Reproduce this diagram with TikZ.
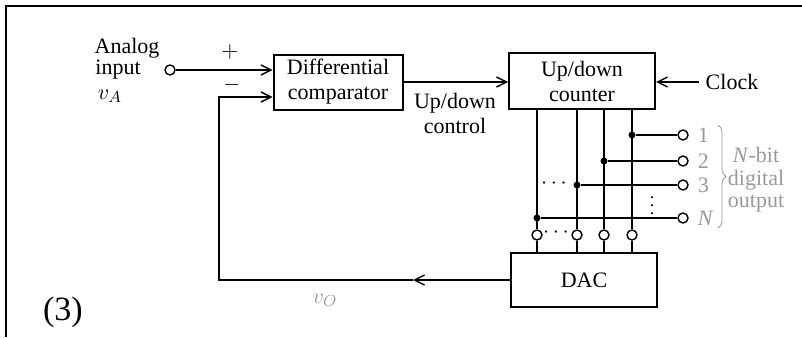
\documentclass[tikz,border=0pt]{standalone}
\usepackage{fontspec}
\setmainfont{Liberation Serif}
\usetikzlibrary{arrows.meta,positioning,decorations.pathreplacing}

\begin{document}
\begin{tikzpicture}[x=0.5pt,y=-0.5pt, every node/.style={font=\fontsize{11}{12.5}\selectfont}, blk/.style={draw,line width=1pt,inner sep=0pt,align=center}, arr/.style={-{Straight Barb[length=5pt,width=5pt]},line width=0.7pt}, wire/.style={line width=0.7pt}, pin/.style={circle,draw,fill=white,line width=0.7pt,inner sep=0pt,minimum size=5pt}, dot/.style={circle,fill,inner sep=0pt,minimum size=3.5pt}, faint/.style={text=black!40}]
\useasboundingbox (0,0) rectangle (802,337);
\draw[line width=0.9pt] (6,337) -- (6,6) -- (802,6);
% blocks
\node[blk,minimum width=64.5pt,minimum height=27.5pt] (cmp) at (338,82) {Differential\\comparator};
\node[blk,minimum width=73pt,minimum height=28pt] (cnt) at (582,81) {Up/down\\counter};
\node[blk,minimum width=73pt,minimum height=27pt] (dac) at (584,280) {DAC};
% analog input
\node[pin] (vin) at (170,70) {};
\node (lana) at (127,48) {Analog};
\node (linp) at (118,70) {input};
\node (lva) at (110,96) {$v_A$};
\coordinate (inp) at (cmp.west |- vin);
\coordinate (inm) at ([yshift=-7.5pt]cmp.west);
\draw[arr] (vin) -- (inp);
\node (lplus) at (230,52) {$+$};
\node (lminus) at (232,85) {$-$};
% control and clock
\draw[arr] (cmp.east) -- (cmp.east -| cnt.west);
\node[align=center] (lctl) at (455,113) {Up/down\\control};
\node (clk) at (732,82) {Clock};
\draw[arr] (clk.west) -- (clk.west -| cnt.east);
% bit lines
\foreach \x/\n in {537/a,577/b,604/c,632/d} {
  \node[pin] (b\n) at (\x,235) {};
  \draw[wire] (b\n |- cnt.south) -- (b\n);
  \draw[wire] (b\n) -- (b\n |- dac.north);
}
\foreach \n/\y/\l in {d/135/1,c/161/2,b/185/3,a/218/\textit{N}} {
  \node[dot] (j\n) at (b\n |- 0,\y) {};
  \node[pin] (o\n) at (683,\y) {};
  \node[faint,right=1pt of o\n] (l\n) {\l};
  \draw[wire] (j\n) -- (o\n);
}
\node[inner sep=0pt] (hdots) at (554,184) {$\cdots$};
\node[inner sep=0pt] (pdots) at (556,233) {$\cdots$};
\node[inner sep=0pt,font=\fontsize{9}{9}\selectfont] (vdots) at (652,200) {$\vdots$};
\draw[black!40,decorate,decoration={brace,amplitude=4pt}] (718,125) -- (718,228);
\node[faint,align=center,font=\fontsize{11}{11.3}\selectfont] (lout) at (756,180) {\textit{N}-bit\\digital\\output};
% feedback
\coordinate (fbm) at (413,280);
\coordinate (fbc) at (219,280);
\draw[arr] (dac.west) -- (fbm);
\draw[arr] (fbm) -- (fbc) |- (inm);
\node[faint] (lvo) at (325,300) {$v_O$};
\node (tag) at (63,312) {\fontsize{17}{20}\selectfont (3)};
\end{tikzpicture}
\end{document}
